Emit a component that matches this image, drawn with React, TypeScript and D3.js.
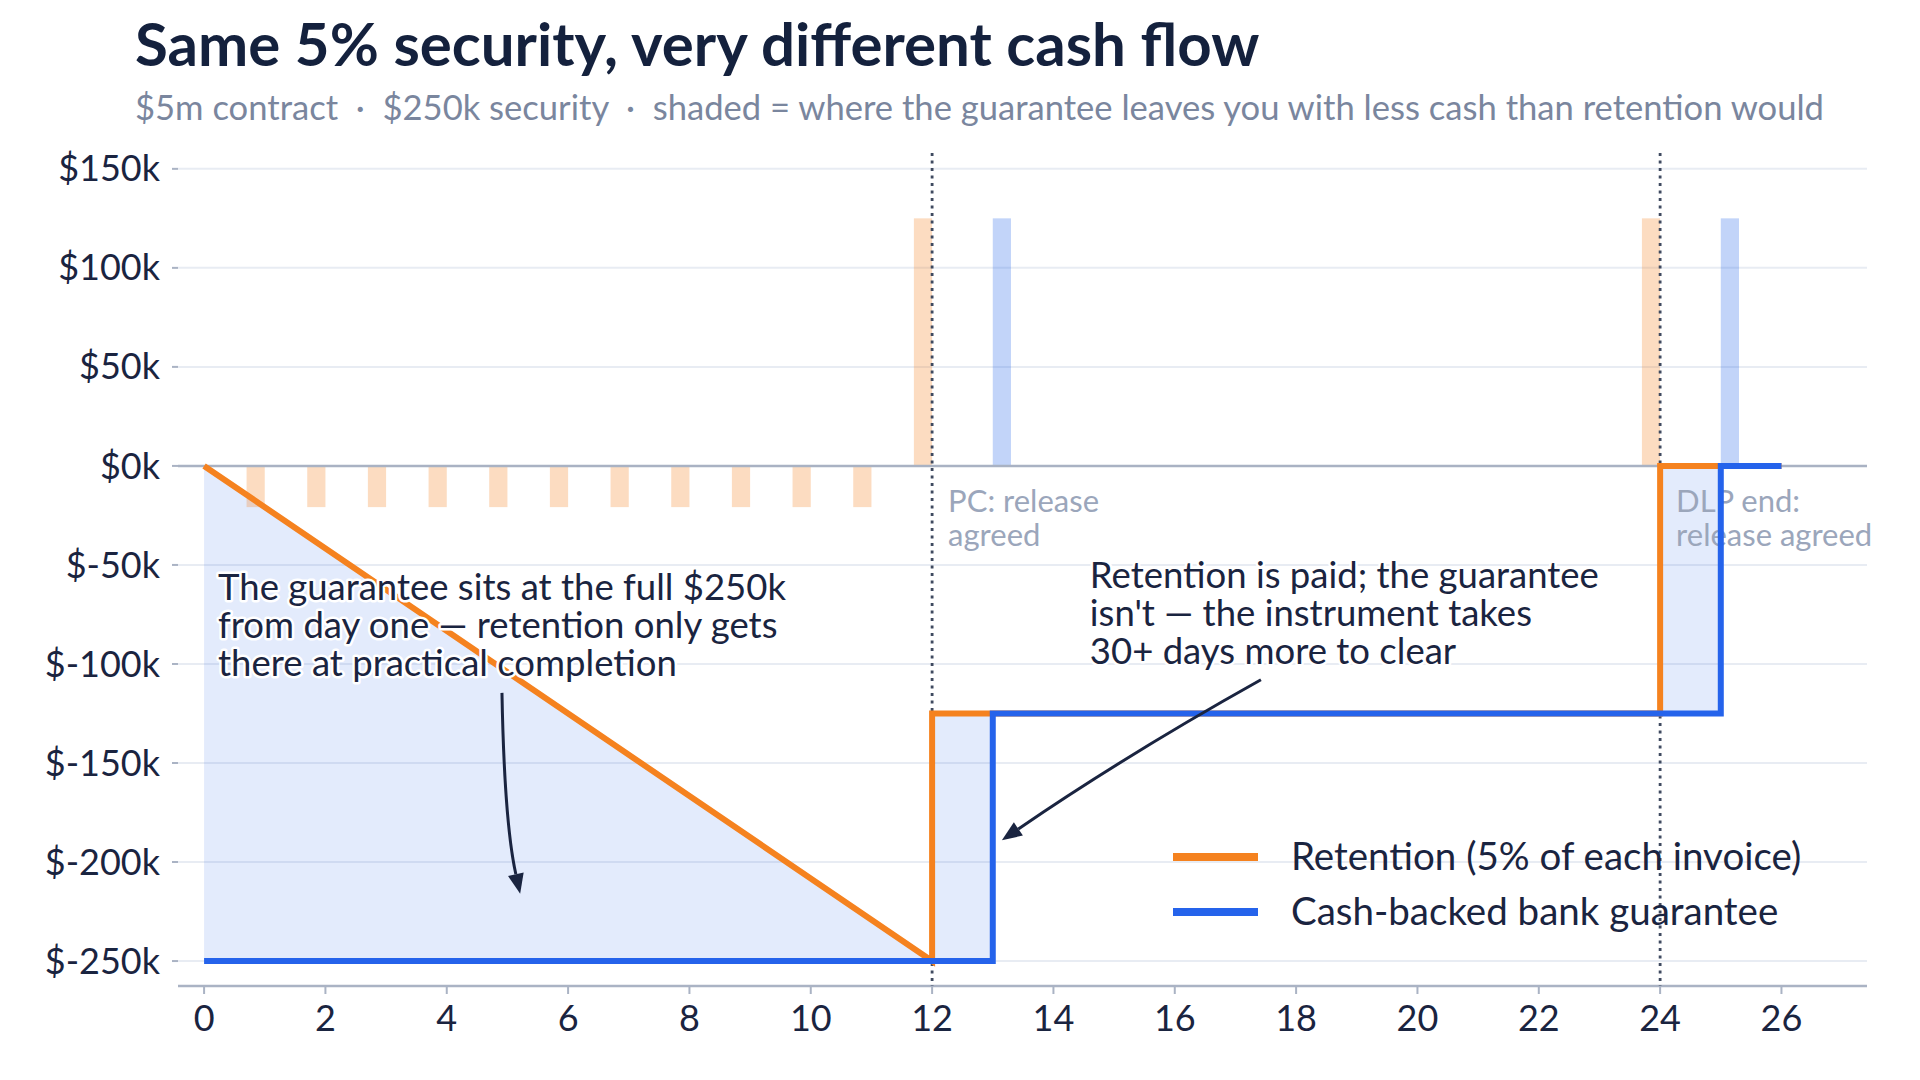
import * as d3 from "d3";
import { useEffect } from "react";

const W = 1920;
const H = 1080;
const M = { top: 153, right: 53, bottom: 94, left: 178 };

// months, $k
const retentionBarX = [1, 2, 3, 4, 5, 6, 7, 8, 9, 10, 11, 12, 24];
const retentionBarV = [-20.8, -20.8, -20.8, -20.8, -20.8, -20.8, -20.8, -20.8, -20.8, -20.8, -20.8, 125, 125];
const guaranteeBarX = [13, 25];
const guaranteeBarV = [125, 125];

const retentionX = [0, 12, 12, 24, 24, 26];
const retentionV = [0, -250, -125, -125, 0, 0];
const guaranteeX = [0, 13, 13, 25, 25, 26];
const guaranteeV = [-250, -250, -125, -125, 0, 0];

// shaded gaps: where guarantee cash < retention cash
const shadeA: [number, number][] = [[0, 0], [12, -250], [12, -125], [13, -125], [13, -250], [0, -250]];
const shadeB: [number, number][] = [[24, 0], [25, 0], [25, -125], [24, -125]];

const yTicks = [150, 100, 50, 0, -50, -100, -150, -200, -250];
const xTicks = [0, 2, 4, 6, 8, 10, 12, 14, 16, 18, 20, 22, 24, 26];
const milestones = [
	{ x: 12, lines: ["PC: release", "agreed"] },
	{ x: 24, lines: ["DLP end:", "release agreed"] },
];

const ORANGE = "#f5821f";
const BLUE = "#2563eb";
const NAVY = "#1a2440";
const FONT = "Lato, 'Noto Sans', sans-serif";

const x = d3.scaleLinear().domain([-0.43, 27.41]).range([M.left, W - M.right]);
const y = d3.scaleLinear().domain([-262.6, 158]).range([H - M.bottom, M.top]);

const line = d3
	.line<[number, number]>()
	.x((d) => x(d[0]))
	.y((d) => y(d[1]));

const BAR_W = 0.3;

function Arrow({ from, ctrl, to }: { from: [number, number]; ctrl: [number, number]; to: [number, number] }) {
	const p0 = [x(from[0]), y(from[1])];
	const c = [x(ctrl[0]), y(ctrl[1])];
	const p1 = [x(to[0]), y(to[1])];
	const ang = Math.atan2(p1[1] - c[1], p1[0] - c[0]);
	const len = 20;
	const hw = 8;
	const bx = p1[0] - Math.cos(ang) * len;
	const by = p1[1] - Math.sin(ang) * len;
	const head = [
		[p1[0], p1[1]],
		[bx + Math.sin(ang) * hw, by - Math.cos(ang) * hw],
		[bx - Math.sin(ang) * hw, by + Math.cos(ang) * hw],
	];
	return (
		<g>
			<path
				d={`M${p0[0]},${p0[1]} Q${c[0]},${c[1]} ${bx},${by}`}
				fill="none"
				stroke={NAVY}
				strokeWidth={3}
			/>
			<polygon points={head.map((p) => p.join(",")).join(" ")} fill={NAVY} />
		</g>
	);
}

function Note({ mx, my, lines }: { mx: number; my: number; lines: string[] }) {
	return (
		<text
			x={x(mx)}
			y={y(my)}
			fontSize={36.5}
			fill={NAVY}
			stroke="white"
			strokeWidth={5}
			strokeLinejoin="round"
			paintOrder="stroke"
		>
			{lines.map((l, i) => (
				<tspan key={i} x={x(mx)} dy={i === 0 ? 0 : 38}>
					{l}
				</tspan>
			))}
		</text>
	);
}

export default function App() {
	useEffect(() => {
		document.body.style.margin = "0";
		document.body.style.overflow = "hidden";
	}, []);

	const retPts = retentionX.map((d, i) => [d, retentionV[i]] as [number, number]);
	const guaPts = guaranteeX.map((d, i) => [d, guaranteeV[i]] as [number, number]);

	return (
		<svg width={W} height={H} style={{ display: "block", background: "white" }} fontFamily={FONT}>
			<text x={135} y={66} fontSize={60} fontWeight={700} fill="#14213d">
				Same 5% security, very different cash flow
			</text>
			<text x={135} y={120} fontSize={34.6} fill="#7a869e" style={{ whiteSpace: "pre" }}>
				{"$5m contract  ·  $250k security  ·  shaded = where the guarantee leaves you with less cash than retention would"}
			</text>

			{/* grid */}
			{yTicks.map((t) => (
				<g key={t}>
					<line x1={M.left} x2={W - M.right} y1={y(t)} y2={y(t)} stroke="#e8ecf3" strokeWidth={2} />
					<line x1={M.left - 6} x2={M.left} y1={y(t)} y2={y(t)} stroke="#aab3c4" strokeWidth={2} />
					<text x={M.left - 18} y={y(t)} dy="0.35em" textAnchor="end" fontSize={36} fill={NAVY}>
						{`$${t}k`}
					</text>
				</g>
			))}

			{/* shaded gap */}
			{[shadeA, shadeB].map((s, i) => (
				<path key={i} d={line(s) + "Z"} fill={BLUE} fillOpacity={0.13} />
			))}

			{/* cash movement bars */}
			{retentionBarX.map((m, i) => {
				const v = retentionBarV[i];
				return (
					<rect
						key={"r" + i}
						x={x(m - BAR_W)}
						width={x(BAR_W) - x(0)}
						y={y(Math.max(v, 0))}
						height={Math.abs(y(v) - y(0))}
						fill={ORANGE}
						fillOpacity={0.28}
					/>
				);
			})}
			{guaranteeBarX.map((m, i) => {
				const v = guaranteeBarV[i];
				return (
					<rect
						key={"g" + i}
						x={x(m)}
						width={x(BAR_W) - x(0)}
						y={y(Math.max(v, 0))}
						height={Math.abs(y(v) - y(0))}
						fill={BLUE}
						fillOpacity={0.28}
					/>
				);
			})}

			{/* zero line */}
			<line x1={M.left} x2={W - M.right} y1={y(0)} y2={y(0)} stroke="#a9b2c3" strokeWidth={2.5} />

			{/* x axis */}
			<line x1={M.left} x2={W - M.right} y1={H - M.bottom} y2={H - M.bottom} stroke="#aab3c4" strokeWidth={2.5} />
			{xTicks.map((t) => (
				<g key={t}>
					<line x1={x(t)} x2={x(t)} y1={H - M.bottom} y2={H - M.bottom + 8} stroke="#aab3c4" strokeWidth={2} />
					<text x={x(t)} y={H - M.bottom + 45} textAnchor="middle" fontSize={36} fill={NAVY}>
						{t}
					</text>
				</g>
			))}

			{/* milestones */}
			{milestones.map((m) => (
				<g key={m.x}>
					<line
						x1={x(m.x)}
						x2={x(m.x)}
						y1={M.top}
						y2={H - M.bottom}
						stroke="#3f4a60"
						strokeWidth={2.8}
						strokeDasharray="3,4.5"
					/>
					<text x={x(m.x) + 16} y={y(0) + 46} fontSize={31} fill="#9ba6bb">
						{m.lines.map((l, i) => (
							<tspan key={i} x={x(m.x) + 16} dy={i === 0 ? 0 : 34}>
								{l}
							</tspan>
						))}
					</text>
				</g>
			))}

			{/* series */}
			<path d={line(retPts) ?? ""} fill="none" stroke={ORANGE} strokeWidth={6} />
			<path d={line(guaPts) ?? ""} fill="none" stroke={BLUE} strokeWidth={6} />

			{/* annotations */}
			<Note
				mx={0.23}
				my={-67.7}
				lines={["The guarantee sits at the full $250k", "from day one — retention only gets", "there at practical completion"]}
			/>
			<Arrow from={[4.91, -114.6]} ctrl={[4.95, -180]} to={[5.21, -216]} />
			<Note
				mx={14.6}
				my={-61.6}
				lines={["Retention is paid; the guarantee", "isn't — the instrument takes", "30+ days more to clear"]}
			/>
			<Arrow from={[17.42, -108]} ctrl={[15.2, -146]} to={[13.15, -189]} />

			{/* legend */}
			{[
				{ label: "Retention (5% of each invoice)", color: ORANGE },
				{ label: "Cash-backed bank guarantee", color: BLUE },
			].map((d, i) => (
				<g key={d.label} transform={`translate(1173,${857 + i * 55})`}>
					<line x1={0} x2={85} stroke={d.color} strokeWidth={8} />
					<text x={118} dy="0.35em" fontSize={38.5} fill={NAVY}>
						{d.label}
					</text>
				</g>
			))}
		</svg>
	);
}
